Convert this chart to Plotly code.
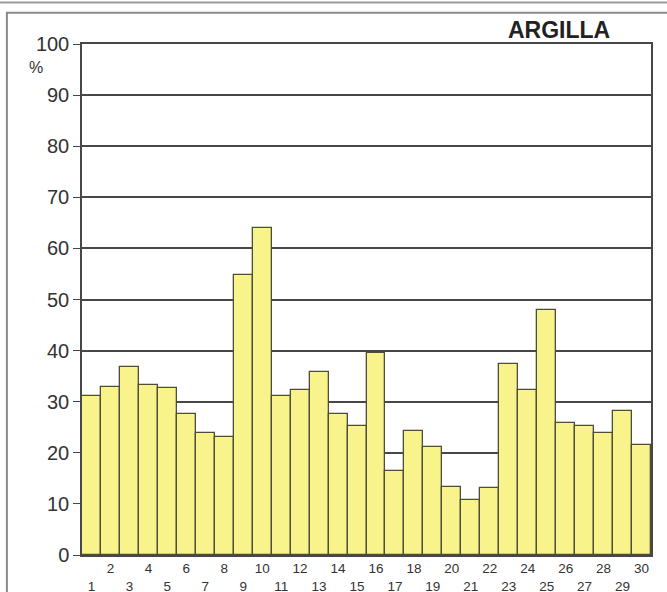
import plotly.graph_objects as go

# Data
samples = list(range(1, 31))
argilla_pct = [31.2, 32.8, 36.8, 33.3, 32.6, 27.5, 23.8, 23.0, 54.8, 64.0,
               31.1, 32.2, 35.9, 27.5, 25.3, 39.5, 16.4, 24.3, 21.1, 13.3,
               10.8, 13.1, 37.4, 32.2, 47.9, 25.9, 25.3, 23.8, 28.2, 21.5]
y_ticks = list(range(0, 101, 10))
x_tick_labels = [str(s) if s % 2 == 0 else "<br>" + str(s) for s in samples]
title_text = "ARGILLA"
unit_text = "%"

FONT = "Liberation Sans, Arial, sans-serif"
GRID = "#474747"

fig = go.Figure(go.Bar(
    x=samples, y=argilla_pct,
    marker=dict(color="#F8F38A", line=dict(color="#4d4d3a", width=1.3)),
    hoverinfo="x+y",
))

fig.update_layout(
    width=667, height=592,
    margin=dict(l=82, r=16, t=44, b=37, autoexpand=False),
    paper_bgcolor="white", plot_bgcolor="white",
    bargap=0,
    showlegend=False,
    font=dict(family=FONT, color="#333"),
    xaxis=dict(
        range=[0.5, 30.5], tickmode="array", tickvals=samples, ticktext=x_tick_labels,
        ticks="", showgrid=False, zeroline=False, automargin=False,
        showline=True, linecolor=GRID, linewidth=1.5, mirror=True,
        tickfont=dict(size=13.5, color="#333"), tickangle=0,
    ),
    yaxis=dict(
        range=[0, 100], tickmode="array", tickvals=y_ticks, automargin=False,
        ticks="outside", ticklen=7, tickcolor=GRID, tickwidth=1.3,
        showgrid=True, gridcolor=GRID, gridwidth=1.5, zeroline=False,
        showline=True, linecolor=GRID, linewidth=1.5, mirror=True,
        tickfont=dict(size=20, color="#333"),
    ),
    annotations=[
        dict(text=title_text, xref="paper", yref="paper", x=0.932, y=1.027,
             xanchor="right", yanchor="middle", showarrow=False,
             font=dict(size=23, color="#222", family=FONT, weight="bold")),
        dict(text=unit_text, xref="paper", yref="y", x=-0.081, y=95.5,
             xanchor="center", yanchor="middle", showarrow=False,
             font=dict(size=16, color="#333", family=FONT)),
    ],
    shapes=[
        dict(type="rect", xref="paper", yref="paper", x0=-0.132, x1=1.06,
             y0=-0.12, y1=1.061, line=dict(color="#8a8a8a", width=2)),
        dict(type="line", xref="paper", yref="paper", x0=-0.2, x1=1.1,
             y0=1.081, y1=1.081, line=dict(color="#9a9a9a", width=2)),
    ],
)

fig.write_html("out.html", config={"displayModeBar": False},
               post_script="document.body.style.margin='0';")
